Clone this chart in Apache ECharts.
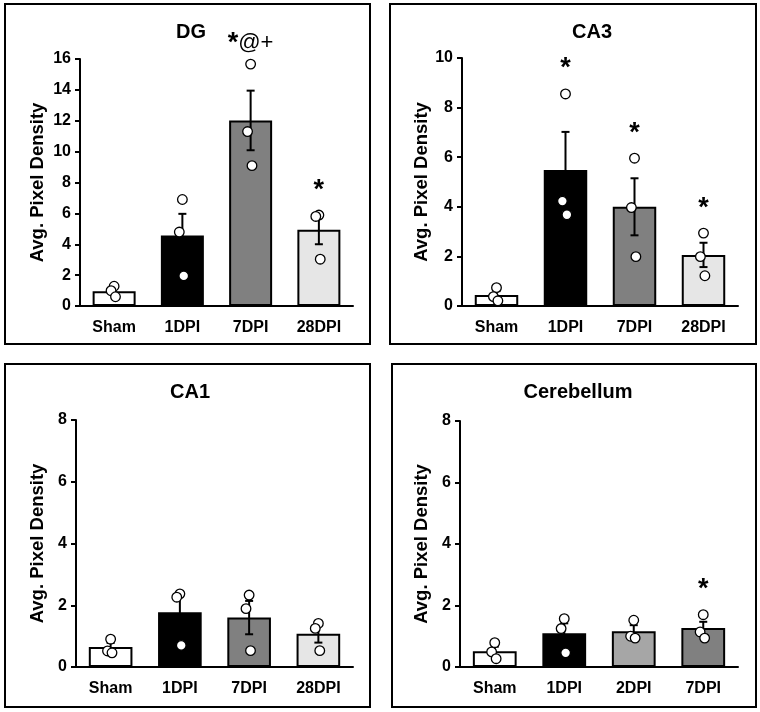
<!DOCTYPE html>
<html>
<head>
<meta charset="utf-8">
<script src="https://cdn.jsdelivr.net/npm/echarts@6/dist/echarts.min.js"></script>
<style>
  html, body { margin: 0; padding: 0; background: #fff; }
  #chart { width: 760px; height: 712px; }
</style>
</head>
<body>
<div id="chart"></div>
<script>
// ---------- DATA ----------
const dgTitle = 'DG';
const dgCategories = ['Sham', '1DPI', '7DPI', '28DPI'];
const dgMeans = [0.95, 4.57, 12.02, 4.94];
const dgSem = [0.2, 1.4, 1.93, 0.94];
const dgPoints = [[1.28, 0.99, 0.6], [6.9, 4.79, 1.95], [15.67, 11.3, 9.09], [5.89, 5.8, 3.03]];
const dgMarks = ['', '', '*@+', '*'];
const dgTicks = [0, 2, 4, 6, 8, 10, 12, 14, 16];

const ca3Title = 'CA3';
const ca3Categories = ['Sham', '1DPI', '7DPI', '28DPI'];
const ca3Means = [0.44, 5.48, 4.0, 2.06];
const ca3Sem = [0.16, 1.54, 1.15, 0.49];
const ca3Points = [[0.74, 0.38, 0.21], [8.55, 4.23, 3.68], [5.96, 3.97, 1.99], [2.94, 1.99, 1.22]];
const ca3Marks = ['', '*', '*', '*'];
const ca3Ticks = [0, 2, 4, 6, 8, 10];

const ca1Title = 'CA1';
const ca1Categories = ['Sham', '1DPI', '7DPI', '28DPI'];
const ca1Means = [0.65, 1.77, 1.6, 1.08];
const ca1Sem = [0.13, 0.53, 0.54, 0.29];
const ca1Points = [[0.9, 0.52, 0.46], [2.37, 2.26, 0.7], [2.33, 1.89, 0.53], [1.41, 1.25, 0.53]];
const ca1Marks = ['', '', '', ''];
const ca1Ticks = [0, 2, 4, 6, 8];

const cbTitle = 'Cerebellum';
const cbCategories = ['Sham', '1DPI', '2DPI', '7DPI'];
const cbMeans = [0.51, 1.1, 1.16, 1.27];
const cbSem = [0.15, 0.32, 0.2, 0.2];
const cbPoints = [[0.79, 0.49, 0.27], [1.57, 1.25, 0.46], [1.52, 1.0, 0.94], [1.7, 1.14, 0.94]];
const cbMarks = ['', '', '', '*'];
const cbTicks = [0, 2, 4, 6, 8];

// ---------- STYLE ----------
const FONT = '"Liberation Sans", Arial, sans-serif';
const fillsStd = ['#ffffff', '#000000', '#808080', '#e6e6e6'];
const fillsCb = ['#ffffff', '#000000', '#a6a6a6', '#808080'];
const JITTER = [0.0, -0.045, 0.02];

const panels = [
  { title: dgTitle, cats: dgCategories, means: dgMeans, sem: dgSem, pts: dgPoints, marks: dgMarks, ticks: dgTicks, fills: fillsStd,
    grid: { left: 80, top: 59, width: 273, height: 247 }, box: [5, 4, 365, 340], titleX: 186, titleY: 17, nameGap: 33 },
  { title: ca3Title, cats: ca3Categories, means: ca3Means, sem: ca3Sem, pts: ca3Points, marks: ca3Marks, ticks: ca3Ticks, fills: fillsStd,
    grid: { left: 462, top: 58, width: 276, height: 248 }, box: [390, 4, 366, 340], titleX: 587, titleY: 17, nameGap: 31 },
  { title: ca1Title, cats: ca1Categories, means: ca1Means, sem: ca1Sem, pts: ca1Points, marks: ca1Marks, ticks: ca1Ticks, fills: fillsStd,
    grid: { left: 76, top: 420, width: 277, height: 247 }, box: [5, 364, 365, 343], titleX: 185, titleY: 377, nameGap: 29 },
  { title: cbTitle, cats: cbCategories, means: cbMeans, sem: cbSem, pts: cbPoints, marks: cbMarks, ticks: cbTicks, fills: fillsCb,
    grid: { left: 460, top: 421, width: 278, height: 246 }, box: [392, 364, 364, 343], titleX: 573, titleY: 377, nameGap: 29 }
];

const option = {
  backgroundColor: '#ffffff',
  animation: false,
  title: [],
  grid: [],
  xAxis: [],
  yAxis: [],
  series: [],
  graphic: []
};

panels.forEach((p, i) => {
  option.title.push({
    text: p.title, left: p.titleX, top: p.titleY, textAlign: 'center',
    textStyle: { fontFamily: FONT, fontWeight: 'bold', fontSize: 20, color: '#000' }
  });
  option.grid.push(Object.assign({ containLabel: false }, p.grid));
  option.xAxis.push({
    type: 'category', gridIndex: i, data: p.cats,
    axisLine: { lineStyle: { color: '#000', width: 2 } },
    axisTick: { show: false },
    axisLabel: { color: '#000', fontFamily: FONT, fontWeight: 'bold', fontSize: 16, margin: 14 }
  });
  const maxV = p.ticks[p.ticks.length - 1];
  option.yAxis.push({
    type: 'value', gridIndex: i, min: p.ticks[0], max: maxV, interval: p.ticks[1] - p.ticks[0],
    name: 'Avg. Pixel Density', nameLocation: 'middle', nameGap: p.nameGap, nameRotate: 90,
    nameTextStyle: { color: '#000', fontFamily: FONT, fontWeight: 'bold', fontSize: 18.5 },
    axisLine: { show: true, lineStyle: { color: '#000', width: 2 } },
    axisTick: { show: true, length: 5, lineStyle: { color: '#000', width: 2 } },
    axisLabel: { color: '#000', fontFamily: FONT, fontWeight: 'bold', fontSize: 16, margin: 9 },
    splitLine: { show: false }
  });
  // bars
  option.series.push({
    type: 'bar', xAxisIndex: i, yAxisIndex: i, barWidth: '63%', z: 2,
    data: p.means.map((m, k) => ({ value: m, itemStyle: { color: p.fills[k], borderColor: '#000', borderWidth: 2 } }))
  });
  // error bars
  option.series.push({
    type: 'custom', xAxisIndex: i, yAxisIndex: i, z: 3,
    data: p.means.map((m, k) => [k, m - p.sem[k], m + p.sem[k]]),
    renderItem: function (params, api) {
      const lo = api.coord([api.value(0), api.value(1)]);
      const hi = api.coord([api.value(0), api.value(2)]);
      const hw = 4;
      const st = { stroke: '#000', lineWidth: 2 };
      return {
        type: 'group', children: [
          { type: 'line', shape: { x1: hi[0], y1: hi[1], x2: lo[0], y2: lo[1] }, style: st },
          { type: 'line', shape: { x1: hi[0] - hw, y1: hi[1], x2: hi[0] + hw, y2: hi[1] }, style: st },
          { type: 'line', shape: { x1: lo[0] - hw, y1: lo[1], x2: lo[0] + hw, y2: lo[1] }, style: st }
        ]
      };
    }
  });
  // individual points
  const ptData = [];
  p.pts.forEach((arr, k) => arr.forEach((v, j) => ptData.push([k, v, JITTER[j % JITTER.length]])));
  option.series.push({
    type: 'custom', xAxisIndex: i, yAxisIndex: i, z: 4,
    data: ptData,
    renderItem: function (params, api) {
      const c = api.coord([api.value(0), api.value(1)]);
      const bw = api.size([1, 0])[0];
      return {
        type: 'circle', shape: { cx: c[0] + api.value(2) * bw, cy: c[1], r: 4.8 },
        style: { fill: '#fff', stroke: '#000', lineWidth: 1.3 }
      };
    }
  });
  // significance marks
  const markData = [];
  p.marks.forEach((t, k) => {
    if (t) markData.push([k, Math.max(Math.max.apply(null, p.pts[k]), p.means[k] + p.sem[k]), t]);
  });
  option.series.push({
    type: 'custom', xAxisIndex: i, yAxisIndex: i, z: 5,
    data: markData,
    renderItem: function (params, api) {
      const c = api.coord([api.value(0), api.value(1)]);
      const t = markData[params.dataIndex][2];
      const star = t.charAt(0);
      const rest = t.slice(1);
      const txt = '{s|' + star + '}' + (rest ? '{r|' + rest + '}' : '');
      return {
        type: 'text',
        style: {
          x: c[0], y: c[1] - (rest ? 21 : 25), text: txt, align: 'center', verticalAlign: 'middle',
          fill: '#000',
          rich: {
            s: { fontFamily: FONT, fontWeight: 'bold', fontSize: 27, fill: '#000' },
            r: { fontFamily: FONT, fontWeight: 'normal', fontSize: 22, fill: '#000' }
          }
        }
      };
    }
  });
  // panel border
  option.graphic.push({
    type: 'rect', shape: { x: p.box[0], y: p.box[1], width: p.box[2], height: p.box[3] },
    style: { fill: 'none', stroke: '#000', lineWidth: 2 }, z: 10
  });
});

const chart = echarts.init(document.getElementById('chart'), null, { renderer: 'canvas' });
chart.setOption(option);
</script>
</body>
</html>
